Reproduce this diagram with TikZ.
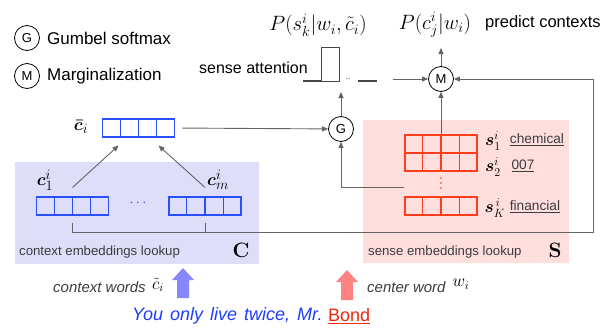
\documentclass[tikz,border=0pt]{standalone}
\usepackage[no-math]{fontspec}
\setmainfont{Liberation Sans}
\usepackage{bm}
\usetikzlibrary{calc,arrows.meta}
\definecolor{lineg}{RGB}{100,100,100}
\definecolor{barg}{RGB}{70,70,70}
\definecolor{cblue}{RGB}{40,80,255}
\definecolor{cred}{RGB}{255,60,30}
\definecolor{bgblue}{RGB}{222,222,250}
\definecolor{bgpink}{RGB}{255,222,222}
\definecolor{fatblue}{RGB}{135,135,250}
\definecolor{fatred}{RGB}{255,130,130}
\definecolor{txtblue}{RGB}{30,60,255}
\definecolor{bondred}{RGB}{235,40,10}
\definecolor{wordg}{RGB}{60,60,60}
\newcommand\fs[1]{\fontsize{#1}{#1}\selectfont}
\tikzset{
  conn/.style={draw=lineg, line width=0.9pt},
  arr/.style={conn, -{Triangle[length=6pt,width=5pt]}},
  opcircle/.style={circle, draw=black, line width=0.8pt, minimum size=25pt, inner sep=0pt, font=\fs{13}},
  bluecells/.style={draw=cblue, line width=1.1pt, minimum width=72pt, minimum height=18pt, inner sep=0pt},
  redcells/.style={draw=cred, line width=1.1pt, minimum width=72pt, minimum height=18pt, inner sep=0pt},
  veclabel/.style={font=\fs{19}},
  wordlabel/.style={font=\fs{13.7}, text=wordg},
  lookup/.style={anchor=west, font=\fs{13.2}, text=wordg},
}
\begin{document}
\begin{tikzpicture}[x=1pt,y=-1pt, every node/.append style={inner sep=1pt}]
\useasboundingbox (0,0) rectangle (611,327);
% backgrounds
\fill[bgblue] (15,162) rectangle (259,264);
\fill[bgpink] (363,120) rectangle (569,263);

% legend
\node[opcircle] (lg) at (27,38) {G};
\node[anchor=west, font=\fs{17}] (lgt) at (46,38) {Gumbel softmax};
\node[opcircle] (lm) at (27,76) {M};
\node[anchor=west, font=\fs{17}] (lmt) at (46,76) {Marginalization};

% top formulas
\node[font=\fs{22}] (Ps) at (318,25) {$P(s^i_k|w_i,\tilde{c}_i)$};
\node[font=\fs{22}] (Pc) at (435,25) {$P(c^i_j|w_i)$};
\node[anchor=west, font=\fs{16.5}] (pred) at (484,23) {predict contexts};
\node[anchor=west, font=\fs{16}] (satt) at (198,68) {sense attention};

% attention bars
\draw[barg, line width=2pt] (303,81) -- (321,81);
\draw[barg, line width=0.9pt] (321,81) rectangle (339,47);
\node[font=\fs{6}] (bdots) at (348,79) {...};
\draw[barg, line width=2pt] (358,81) -- (377,81);

% vectors
\node[bluecells] (cbar) at (138.5,128) {};
\node[bluecells] (c1) at (72.5,206) {};
\node[bluecells] (cm) at (205,206) {};
\node[redcells, minimum height=36pt] (s12) at (441,153) {};
\node[redcells] (sK) at (441,206) {};
\foreach \n/\c in {cbar/cblue,c1/cblue,cm/cblue,s12/cred,sK/cred}{
  \foreach \k in {0.25,0.5,0.75}{
    \draw[\c, line width=1.1pt] ($(\n.south west)!\k!(\n.south east)$) -- ($(\n.north west)!\k!(\n.north east)$);
  }
}
\draw[cred, line width=1.1pt] (s12.west) -- (s12.east);

\node[veclabel] (lcbar) at (81,127) {$\bm{\bar{c}}_i$};
\node[veclabel] (lc1) at (45,180) {$\bm{c}^i_1$};
\node[veclabel] (lcm) at (218,180) {$\bm{c}^i_m$};
\node[text=cblue, font=\fs{14}] (cdots) at (138,203) {$\cdots$};
\foreach \yy in {178,183,188}{\fill[cred] (441,\yy) circle (0.9pt);}

\node[font=\fs{18}] (ls1) at (493,141) {$\bm{s}^i_1$};
\node[font=\fs{18}] (ls2) at (493,167) {$\bm{s}^i_2$};
\node[font=\fs{18}] (lsK) at (495,208) {$\bm{s}^{\,i}_K$};
\node[wordlabel] (w1) at (537,140) {\underline{chemical}};
\node[wordlabel] (w2) at (523,166) {\underline{007}};
\node[wordlabel] (wK) at (535,207) {\underline{financial}};

\node[lookup] (clook) at (18,252) {context embeddings lookup};
\node[font=\fs{20}] (Cl) at (241,250) {$\mathbf{C}$};
\node[lookup] (slook) at (367,252) {sense embeddings lookup};
\node[font=\fs{20}] (Sl) at (555,250) {$\mathbf{S}$};

% operators
\node[opcircle, fill=white] (G) at (341,129) {G};
\node[opcircle, fill=white] (M) at (441,79) {M};

% connectors
\coordinate (attin) at (341,92);
\coordinate (Min) at (393,79);
\coordinate (Pcout) at (441,48);
\coordinate (R) at (593,232);
\draw[arr] (G) -- (attin);
\draw[arr] (Min) -- (M);
\draw[arr] (M) -- (Pcout);
\draw[arr] (s12.north) -- (M);
\draw[arr, shorten <=7pt] (cbar.east) -- (G);
\draw[arr] ([yshift=9pt]c1.north) -- ([xshift=-20pt,yshift=-8pt]cbar.south);
\draw[arr] ([yshift=9pt]cm.north) -- ([xshift=20pt,yshift=-8pt]cbar.south);
\draw[arr] ([yshift=9pt]sK.north west) -| (G);
\draw[arr] ([yshift=-7pt]c1.south) |- (R) |- (M);
\draw[conn] ([yshift=-7pt]cm.south) -- (cm.south |- R);

% bottom
\fill[fatblue] (177,298) -- (177,280) -- (172,280) -- (183,268) -- (194,280) -- (189,280) -- (189,298) -- cycle;
\fill[fatred] (341,300) -- (341,282) -- (336,282) -- (347,270) -- (358,282) -- (353,282) -- (353,300) -- cycle;
\node[anchor=west, font=\fs{15}\itshape, text=wordg] (cw) at (52,287) {context words};
\node[font=\fs{18}] (ct) at (158,285) {$\tilde{c}_i$};
\node[anchor=west, font=\fs{15}\itshape, text=wordg] (cwd) at (366,287) {center word};
\node[font=\fs{18}] (wi) at (461,284) {$w_i$};
\node[anchor=west, font=\fs{18}\itshape, text=txtblue] (sent) at (131,316) {You\hspace{7pt}only\hspace{7pt}live\hspace{7pt}twice,\hspace{7pt}Mr.};
\node[anchor=west, font=\fs{18}, text=bondred] (bond) at (327,316) {\underline{Bond}};
\end{tikzpicture}
\end{document}
